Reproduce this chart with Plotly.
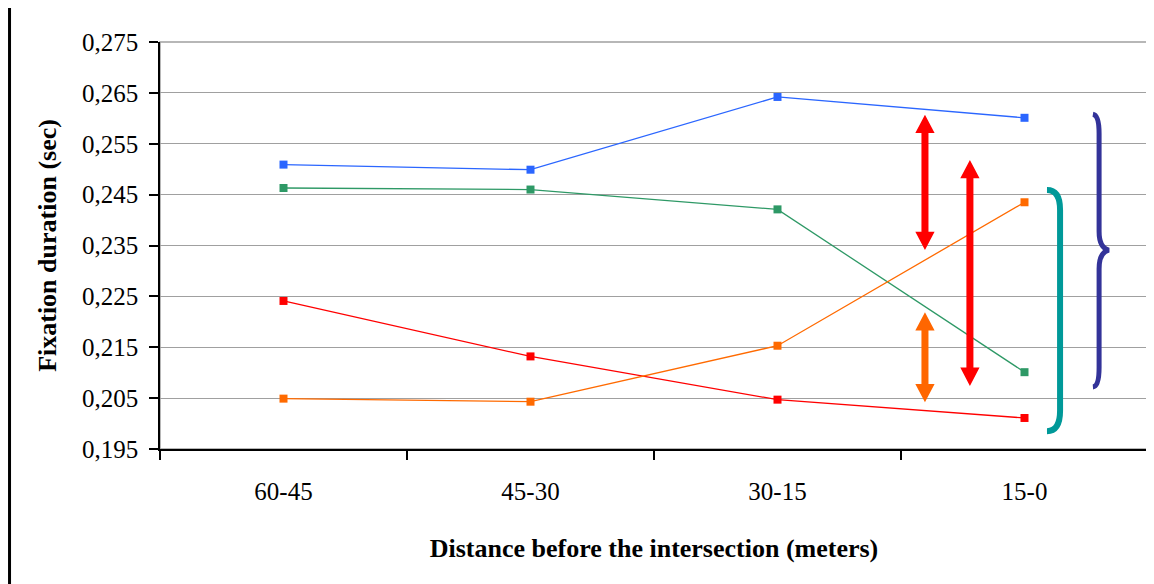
import plotly.graph_objects as go

categories = ["60-45", "45-30", "30-15", "15-0"]
blue_vals = [0.2509, 0.2499, 0.2642, 0.2601]
green_vals = [0.2463, 0.2460, 0.2421, 0.2101]
red_vals = [0.2241, 0.2132, 0.2047, 0.2011]
orange_vals = [0.2049, 0.2043, 0.2153, 0.2435]
y_ticks = [0.195, 0.205, 0.215, 0.225, 0.235, 0.245, 0.255, 0.265, 0.275]

series = [
    ("blue", blue_vals, "#2B66FF"),
    ("green", green_vals, "#2E9966"),
    ("red", red_vals, "#FF0000"),
    ("orange", orange_vals, "#FF6A00"),
]

x_pos = list(range(len(categories)))

fig = go.Figure()
for name, vals, col in series:
    fig.add_trace(go.Scatter(
        x=x_pos, y=vals, name=name, mode="lines+markers",
        line=dict(color=col, width=1.3),
        marker=dict(symbol="square", size=8, color=col),
        showlegend=False,
    ))


def double_arrow(x, y0, y1, color):
    # arrow in data units: shaft half width, head half width, head length
    hw, hh, hl = 0.0142, 0.039, 0.0036
    pts = [(x, y1), (x + hh, y1 - hl), (x + hw, y1 - hl), (x + hw, y0 + hl),
           (x + hh, y0 + hl), (x, y0), (x - hh, y0 + hl), (x - hw, y0 + hl),
           (x - hw, y1 - hl), (x - hh, y1 - hl)]
    path = "M " + " L ".join("%f,%f" % p for p in pts) + " Z"
    return dict(type="path", path=path, xref="x", yref="y",
                fillcolor=color, line=dict(width=0), layer="above")


shapes = [
    # plot area border (grey)
    dict(type="rect", xref="paper", yref="paper", x0=0, y0=0, x1=1, y1=1,
         line=dict(color="#A0A0A0", width=1.5), layer="below"),
    # outer chart border, left side (page offsets the figure by 8px)
    dict(type="line", xref="paper", yref="paper", x0=-0.1523, x1=-0.1523,
         y0=1.2, y1=-0.4, line=dict(color="black", width=3)),
    double_arrow(2.597, 0.2341, 0.2607, "#FF0000"),
    double_arrow(2.779, 0.2074, 0.2518, "#FF0000"),
    double_arrow(2.597, 0.2042, 0.2219, "#FF6600"),
    # teal bracket
    dict(type="path", xref="x", yref="y",
         path="M 3.091,0.2459 Q 3.144,0.2459 3.144,0.2420 L 3.144,0.2025 "
              "Q 3.144,0.1985 3.091,0.1985",
         line=dict(color="#009999", width=6), layer="above"),
    # navy brace
    dict(type="path", xref="x", yref="y",
         path="M 3.277,0.2608 Q 3.302,0.2606 3.302,0.2570 L 3.302,0.2378 "
              "Q 3.302,0.2345 3.342,0.2341 Q 3.302,0.2337 3.302,0.2304 "
              "L 3.302,0.2110 Q 3.302,0.2073 3.277,0.2072",
         line=dict(color="#333399", width=5), layer="above"),
]

fig.update_layout(
    width=1146, height=576,
    margin=dict(l=152, r=6, t=34, b=135),
    paper_bgcolor="white", plot_bgcolor="white",
    separators=", ",
    font=dict(family="Liberation Serif", size=25, color="black"),
    shapes=shapes,
    xaxis=dict(
        range=[-0.5, 3.5], tickvals=x_pos, ticktext=categories,
        ticks="", showgrid=False, zeroline=False,
        showline=True, linecolor="black", linewidth=1.5,
        ticklabelstandoff=19,
        minor=dict(tickvals=[-0.5, 0.5, 1.5, 2.5, 3.5], ticks="outside",
                   ticklen=9, tickwidth=1.5, tickcolor="black", showgrid=False),
        title=dict(text="<b>Distance before the intersection (meters)</b>",
                   font=dict(size=26), standoff=35),
    ),
    yaxis=dict(
        range=[0.195, 0.275], tickvals=y_ticks, tickformat=".3f",
        ticks="outside", ticklen=9, tickwidth=1.5, tickcolor="black",
        ticklabelstandoff=6,
        showgrid=True, gridcolor="#A0A0A0", gridwidth=1.3, zeroline=False,
        showline=True, linecolor="black", linewidth=1.5,
        title=dict(text="<b>Fixation duration (sec)</b>",
                   font=dict(size=26), standoff=18),
    ),
)

fig.write_html("out.html")
